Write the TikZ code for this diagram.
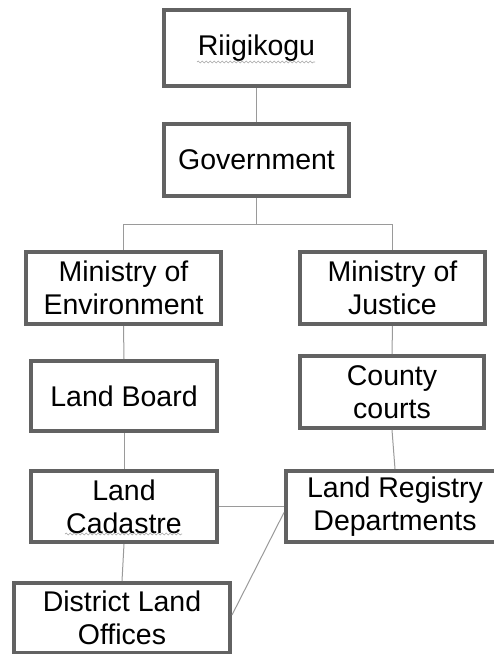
\documentclass[tikz,border=0pt]{standalone}
\usepackage{fontspec}
\setmainfont{Liberation Sans}
\usetikzlibrary{decorations.pathmorphing}
\definecolor{boxline}{HTML}{626262}
\definecolor{conline}{HTML}{9A9A9A}
\tikzset{
  orgbox/.style={draw=boxline, line width=4pt, fill=white, align=center,
    inner sep=0pt, font=\fontsize{28.5}{33}\selectfont},
  conn/.style={draw=conline, line width=1pt},
  squiggle/.style={draw=gray!70, line width=0.6pt,
    decorate, decoration={snake, amplitude=0.9pt, segment length=4pt}}
}
\begin{document}
\begin{tikzpicture}[x=1pt,y=-1pt]
\clip (0,0) rectangle (494,654);
\useasboundingbox (0,0) rectangle (494,654);
\fill[white] (0,0) rectangle (494,654);

\node[orgbox, minimum width=185pt, minimum height=76pt] (riigi) at (256.5,48) {Riigikogu};
\node[orgbox, minimum width=185pt, minimum height=72pt] (gov) at (256.5,160) {Government};
\node[orgbox, minimum width=195pt, minimum height=72pt] (minenv) at (123.5,288) {Ministry of\\Environment};
\node[orgbox, minimum width=185pt, minimum height=72pt] (minjus) at (392.5,288) {Ministry of\\Justice};
\node[orgbox, minimum width=186pt, minimum height=70pt] (board) at (124,396) {Land Board};
\node[orgbox, minimum width=184pt, minimum height=72pt] (county) at (392,392) {County\\courts};
\node[orgbox, minimum width=186pt, minimum height=71pt] (cadastre) at (124,506.5) {Land\\Cadastre};
\node[orgbox, minimum width=218pt, minimum height=71pt] (registry) at (395,506.5) {Land Registry\\Departments};
\node[orgbox, minimum width=216pt, minimum height=70pt] (district) at (122,618) {District Land\\Offices};

\coordinate (split) at (256.5,224);
\draw[conn] (riigi.south) -- (gov.north);
\draw[conn] (gov.south) -- (split);
\draw[conn] (split) -| (minenv.north);
\draw[conn] (split) -| (minjus.north);
\draw[conn] (minenv.south) -- (board.north);
\draw[conn] (minjus.south) -- (county.north);
\draw[conn] (board.south) -- (cadastre.north);
\draw[conn] (county.south) -- (registry.north);
\draw[conn] (cadastre.east) -- (registry.west);
\draw[conn] (cadastre.south) -- (district.north);
\draw[conn] ([yshift=3pt]district.east) -- ([yshift=-6pt]registry.west);

\coordinate (sq1a) at (197,62);
\coordinate (sq1b) at (315,62);
\coordinate (sq2a) at (65,534);
\coordinate (sq2b) at (182,534);
\draw[squiggle] (sq1a) -- (sq1b);
\draw[squiggle] (sq2a) -- (sq2b);
\end{tikzpicture}
\end{document}
